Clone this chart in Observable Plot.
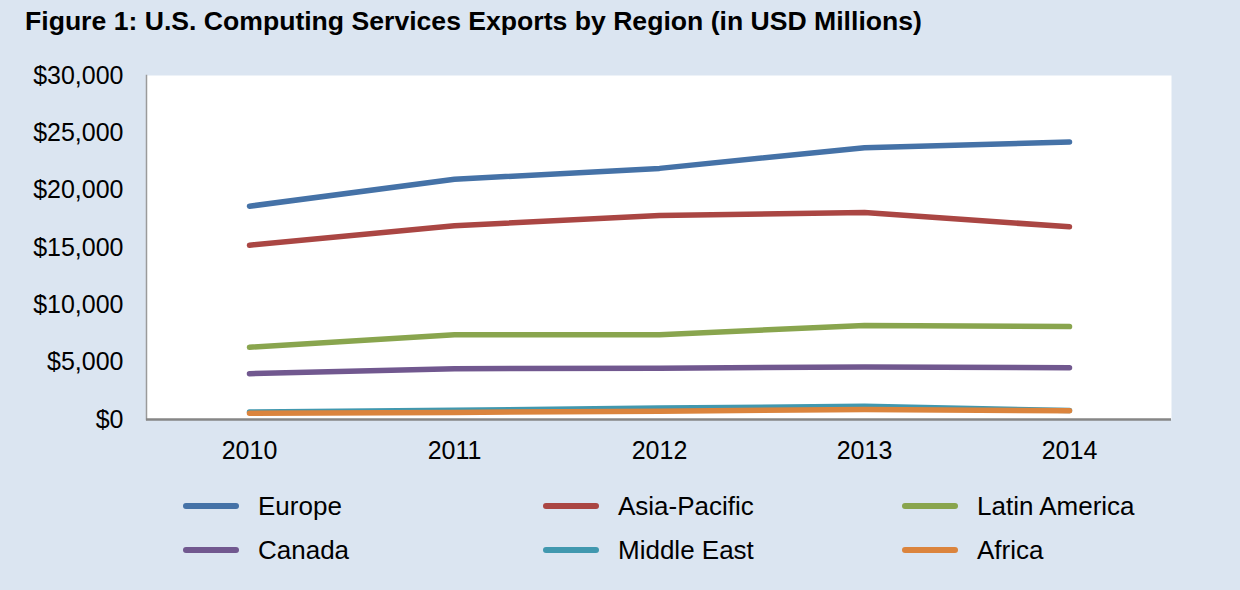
<!DOCTYPE html>
<html>
<head>
<meta charset="utf-8">
<script src="https://cdn.jsdelivr.net/npm/d3@7"></script>
<script src="https://cdn.jsdelivr.net/npm/@observablehq/plot@0.6"></script>
<style>
  html, body { margin: 0; padding: 0; }
  body { width: 1240px; height: 590px; overflow: hidden; }
  #wrap { position: relative; width: 1240px; height: 590px; background: #DBE5F1; font-family: "Liberation Sans", Arial, sans-serif; color: #000; }
  #title { position: absolute; left: 25px; top: 8px; font-weight: bold; font-size: 26.6px; line-height: 1; white-space: nowrap; }
  #chart { position: absolute; left: 0; top: 50px; }
  .lg-item { position: absolute; height: 26px; }
  .lg-sw { position: absolute; left: 0; top: 10px; width: 56px; height: 6px; border-radius: 3px; }
  .lg-tx { position: absolute; left: 75px; top: 0; font-size: 26px; line-height: 1; white-space: nowrap; }
</style>
</head>
<body>
<div id="wrap">
  <div id="title">Figure 1: U.S. Computing Services Exports by Region (in USD Millions)</div>
  <div id="chart"></div>
  <div id="legend"></div>
</div>
<script>
// ---- Data (USD millions) ----
const years = ["2010", "2011", "2012", "2013", "2014"];
const europe       = [18600, 20950, 21900, 23700, 24200];
const asiaPacific  = [15200, 16900, 17800, 18050, 16800];
const latinAmerica = [6300, 7400, 7400, 8200, 8100];
const canada       = [4000, 4430, 4480, 4580, 4520];
const middleEast   = [650, 800, 1000, 1150, 780];
const africa       = [550, 620, 730, 870, 760];

const seriesNames  = ["Europe", "Asia-Pacific", "Latin America", "Canada", "Middle East", "Africa"];
const seriesValues = [europe, asiaPacific, latinAmerica, canada, middleEast, africa];
const seriesColors = ["#4572A7", "#AA4643", "#89A54E", "#71588F", "#4198AF", "#DB843D"];
const yTicks = [0, 5000, 10000, 15000, 20000, 25000, 30000];

const rows = [];
seriesNames.forEach((name, i) => {
  years.forEach((yr, j) => rows.push({series: name, year: yr, value: seriesValues[i][j]}));
});

const fmt = d3.format("$,");

const chart = Plot.plot({
  width: 1240,
  height: 420,
  marginTop: 25,
  marginBottom: 51,
  marginLeft: 146,
  marginRight: 69,
  style: {background: "transparent", fontFamily: "Liberation Sans, Arial, sans-serif", color: "#000"},
  x: {type: "point", domain: years, padding: 0.5},
  y: {domain: [0, 30000]},
  color: {domain: seriesNames, range: seriesColors},
  marks: [
    Plot.frame({fill: "white", stroke: "none"}),
    Plot.frame({anchor: "left", stroke: "#9a9a9a", strokeWidth: 1.5}),
    Plot.axisY({ticks: yTicks, tickFormat: d => fmt(d), tickSize: 0, tickPadding: 23, fontSize: 25, label: null}),
    Plot.axisX({tickSize: 0, tickPadding: 22, fontSize: 25, label: null}),
    Plot.line(rows, {x: "year", y: "value", z: "series", stroke: "series", strokeWidth: 5.5, strokeLinecap: "round", strokeLinejoin: "round"}),
    Plot.ruleY([0], {stroke: "#868686", strokeWidth: 2.5})
  ]
});
document.getElementById("chart").appendChild(chart);

// ---- Legend ----
const legend = document.getElementById("legend");
const colX = [183, 543, 902];
const rowTop = [493, 537];
seriesNames.forEach((name, i) => {
  const item = document.createElement("div");
  item.className = "lg-item";
  item.style.left = colX[i % 3] + "px";
  item.style.top = rowTop[Math.floor(i / 3)] + "px";
  const sw = document.createElement("div");
  sw.className = "lg-sw";
  sw.style.background = seriesColors[i];
  const tx = document.createElement("div");
  tx.className = "lg-tx";
  tx.textContent = name;
  item.appendChild(sw);
  item.appendChild(tx);
  legend.appendChild(item);
});
</script>
</body>
</html>
